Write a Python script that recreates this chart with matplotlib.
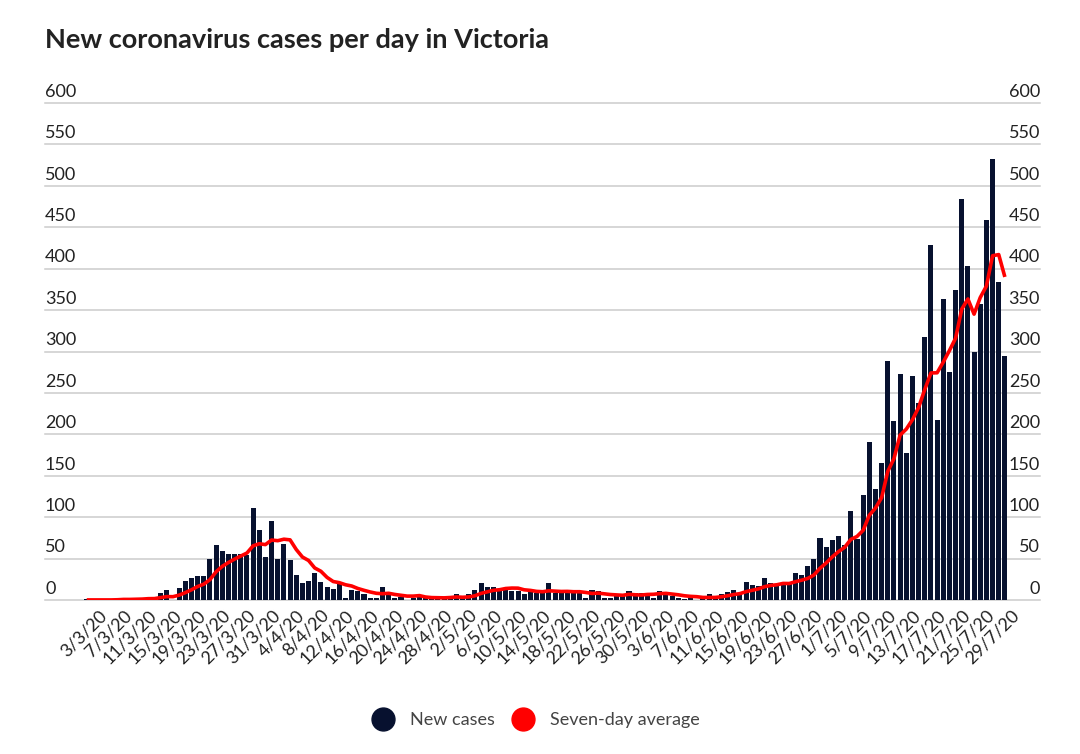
import matplotlib
matplotlib.use('Agg')
import matplotlib.pyplot as plt
import numpy as np
import pandas as pd
from matplotlib.lines import Line2D
from matplotlib.transforms import offset_copy

plt.rcParams['font.family'] = ['Lato', 'DejaVu Sans']

# ---------------- data ----------------
start_date = '2020-03-01'

new_cases = [
    1, 0, 0, 0, 0, 1, 3, 1, 1, 2, 3, 1, 9, 12, 0, 14, 23, 27, 29, 29,
    50, 67, 59, 56, 56, 55, 54, 111, 84, 52, 95, 50, 68, 48, 30, 20, 23, 32, 22, 16,
    13, 20, 3, 12, 11, 7, 2, 2, 16, 7, 2, 4, 0, 2, 6, 4, 2, 1, 3, 3,
    7, 3, 7, 12, 21, 16, 16, 12, 13, 11, 11, 7, 11, 8, 9, 21, 8, 8, 8, 8,
    8, 3, 12, 11, 2, 2, 5, 5, 11, 8, 9, 7, 3, 11, 7, 5, 2, 1, 2, 0,
    5, 7, 5, 7, 10, 12, 8, 22, 18, 17, 26, 20, 18, 19, 21, 33, 30, 41, 49, 75,
    64, 73, 77, 66, 108, 74, 127, 191, 134, 165, 288, 216, 273, 177, 270, 238, 317, 428, 217, 363,
    275, 374, 484, 403, 300, 357, 459, 532, 384, 295,
]

seven_day_avg = [
    0.1, 0.1, 0.1, 0.1, 0.1, 0.3, 0.7, 0.7, 0.9, 1.1, 1.6, 1.7, 2.9, 4.1, 4.0, 5.9, 8.9, 12.3, 16.3, 19.1,
    24.6, 34.1, 40.6, 45.3, 49.4, 53.1, 56.7, 65.4, 67.9, 66.9, 72.4, 71.6, 73.4, 72.6, 61.0, 51.9, 47.7, 38.7, 34.7, 27.3,
    22.3, 20.9, 18.4, 16.9, 13.9, 11.7, 9.7, 8.1, 7.6, 8.1, 6.7, 5.7, 4.7, 4.7, 5.3, 3.6, 2.9, 2.7, 2.6, 3.0,
    3.7, 3.3, 3.7, 5.1, 8.0, 9.9, 11.7, 12.4, 13.9, 14.4, 14.3, 12.3, 11.6, 10.4, 10.0, 11.1, 10.7, 10.3, 10.4, 10.0,
    10.0, 9.1, 7.9, 8.3, 7.4, 6.6, 6.1, 5.7, 6.9, 6.3, 6.0, 6.7, 6.9, 7.7, 8.0, 7.1, 6.3, 5.1, 4.4, 4.0,
    3.1, 3.1, 3.1, 3.9, 5.1, 6.6, 7.7, 10.1, 11.7, 13.4, 16.1, 17.6, 18.4, 20.0, 19.9, 22.0, 23.9, 26.0, 30.1, 38.3,
    44.7, 52.1, 58.4, 63.6, 73.1, 76.7, 84.1, 102.3, 111.0, 123.6, 155.3, 170.7, 199.1, 206.3, 217.6, 232.4, 254.1, 274.1, 274.3, 287.1,
    301.1, 316.0, 351.1, 363.4, 345.1, 365.1, 378.9, 415.6, 417.0, 390.0,
]

y_ticks = [0, 50, 100, 150, 200, 250, 300, 350, 400, 450, 500, 550, 600]

x_tick_labels = [
    '3/3/20', '7/3/20', '11/3/20', '15/3/20', '19/3/20', '23/3/20', '27/3/20', '31/3/20',
    '4/4/20', '8/4/20', '12/4/20', '16/4/20', '20/4/20', '24/4/20', '28/4/20',
    '2/5/20', '6/5/20', '10/5/20', '14/5/20', '18/5/20', '22/5/20', '26/5/20', '30/5/20',
    '3/6/20', '7/6/20', '11/6/20', '15/6/20', '19/6/20', '23/6/20', '27/6/20',
    '1/7/20', '5/7/20', '9/7/20', '13/7/20', '17/7/20', '21/7/20', '25/7/20', '29/7/20',
]

series_names = ['New cases', 'Seven-day average']

# ---------------- style ----------------
NAVY = '#07112f'
RED = '#ff0000'
GRID = '#cccccc'
TEXT = '#222222'

t0 = pd.Timestamp(start_date)
dates = pd.date_range(t0, periods=len(new_cases), freq='D')
x = np.asarray((dates - t0).days)
tick_pos = [(pd.to_datetime(s, format='%d/%m/%y') - t0).days for s in x_tick_labels]

fig = plt.figure(figsize=(10.8, 7.54), dpi=100)
ax = fig.add_axes([45 / 1080, (754 - 600) / 754, 995 / 1080, 497 / 754])

ax.bar(x, new_cases, width=0.82, color=NAVY, linewidth=0, zorder=2)
ax.plot(x, seven_day_avg, color=RED, lw=2.6, zorder=3, solid_joinstyle='round',
        solid_capstyle='butt')

ax.set_xlim(-6.77, 154.7)
ax.set_ylim(0, 600)

for v in y_ticks:
    ax.axhline(v, color=GRID, lw=1.1, zorder=1, clip_on=False)

for s in ax.spines.values():
    s.set_visible(False)

ax.set_yticks([])
ax.set_xticks(tick_pos)
ax.set_xticklabels(x_tick_labels, rotation=45, ha='right', rotation_mode='anchor',
                   fontsize=13, color=TEXT)
ax.tick_params(axis='x', length=0, pad=5)

trans = offset_copy(ax.get_yaxis_transform(), fig=fig, x=0, y=4.5, units='points')
for v in y_ticks:
    ax.text(0, v, str(v), transform=trans, ha='left', va='baseline',
            fontsize=13, color=TEXT)
    ax.text(1, v, str(v), transform=trans, ha='right', va='baseline',
            fontsize=13, color=TEXT)

fig.text(45 / 1080, 1 - 40 / 754, 'New coronavirus cases per day in Victoria',
         fontsize=19.5, fontweight='bold', ha='left', va='center', color=TEXT)

handles = [
    Line2D([], [], marker='o', ls='none', markersize=16.5,
           markerfacecolor=NAVY, markeredgecolor=NAVY),
    Line2D([], [], marker='o', ls='none', markersize=16.5,
           markerfacecolor=RED, markeredgecolor=RED),
]
fig.legend(handles, series_names, loc='center', bbox_to_anchor=(0.497, 1 - 720 / 754),
           ncol=2, frameon=False, fontsize=13, handlelength=1.0, handletextpad=1.0,
           columnspacing=1.05, labelcolor='#444444')

fig.savefig('out.png', dpi=100)
